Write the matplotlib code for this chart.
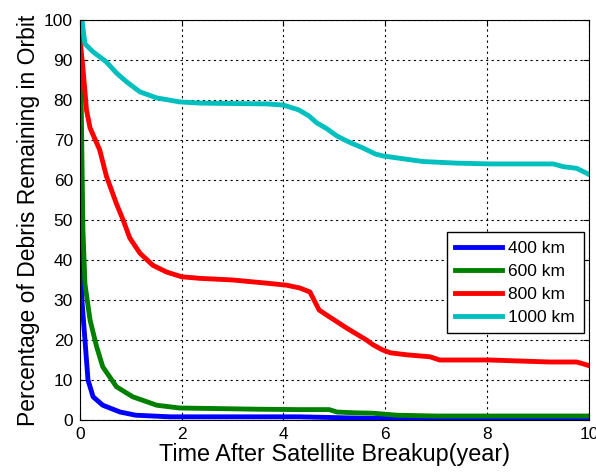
import matplotlib
matplotlib.use('Agg')
import matplotlib.pyplot as plt

# -------------------------------------------------------------
# DATA
# -------------------------------------------------------------

t_400 = [0, 0.01, 0.02, 0.04, 0.1, 0.16, 0.26, 0.45, 0.79, 1.1, 1.77, 2.5, 3.5, 4.3, 5.4, 6.5, 8.0, 10.0]
p_400 = [100, 67, 53, 30, 20, 10, 5.8, 3.7, 2.0, 1.2, 0.8, 0.8, 0.8, 0.8, 0.5, 0.3, 0.3, 0.3]

t_600 = [0, 0.02, 0.04, 0.06, 0.1, 0.2, 0.33, 0.45, 0.72, 1.04, 1.51, 1.96, 2.5, 3.5, 4.32, 4.9,
         5.05, 5.4, 5.76, 6.23, 7.0, 8.0, 10.0]
p_600 = [100, 86, 66, 47.5, 34, 25, 18.3, 13.3, 8.3, 5.8, 3.7, 3.0, 2.9, 2.7, 2.6, 2.6,
         2.0, 1.8, 1.7, 1.2, 1.0, 1.0, 1.0]

t_800 = [0, 0.06, 0.13, 0.2, 0.39, 0.52, 0.72, 0.85, 0.98, 1.18, 1.43, 1.7, 2.0, 2.36, 3.0,
         3.67, 4.06, 4.32, 4.52, 4.6, 4.7, 4.9, 5.24, 5.5, 5.63, 5.76, 5.95, 6.1, 6.42, 6.88, 7.07,
         8.05, 9.23, 9.76, 9.9, 10.0]
p_800 = [95.5, 88, 77.5, 73, 67.5, 61, 54, 50, 45.5, 41.7, 38.7, 37, 35.8, 35.4, 35,
         34.2, 33.7, 33, 32, 30, 27.5, 25.8, 23, 21, 20, 18.8, 17.5, 16.8, 16.3, 15.8, 15,
         15, 14.5, 14.5, 14, 13.6]

t_1000 = [0, 0.04, 0.1, 0.26, 0.52, 0.72, 0.92, 1.18, 1.51, 1.96, 2.36, 3.0, 3.67, 4.0, 4.3, 4.5,
          4.65, 4.85, 5.05, 5.2, 5.37, 5.56, 5.8, 5.95, 6.29, 6.74, 7.4, 8.05, 9.3, 9.5, 9.76, 10.0]
p_1000 = [100, 100, 94, 92, 89.5, 86.7, 84.5, 82, 80.5, 79.5, 79.2, 79.1, 79, 78.7, 77.5, 76,
          74.3, 72.8, 71, 70, 69, 68, 66.5, 66, 65.4, 64.6, 64.2, 64, 64, 63.3, 62.9, 61.4]

labels = ['400 km', '600 km', '800 km', '1000 km']
colors = ['#0000ff', '#008000', '#ff0000', '#00bfbf']

x_ticks = [0, 2, 4, 6, 8, 10]
y_ticks = [0, 10, 20, 30, 40, 50, 60, 70, 80, 90, 100]

# -------------------------------------------------------------
# PLOT
# -------------------------------------------------------------

plt.rcParams['font.family'] = ['Liberation Sans', 'DejaVu Sans']

fig = plt.figure(figsize=(5.96, 4.73), dpi=100)
ax = fig.add_axes([0.134, 0.112, 0.854, 0.846])

series = [(t_400, p_400), (t_600, p_600), (t_800, p_800), (t_1000, p_1000)]
for (t, p), lab, col in zip(series, labels, colors):
    ax.plot(t, p, color=col, linewidth=3.5, label=lab, solid_joinstyle='round')

ax.set_xlim(0, 10)
ax.set_ylim(0, 100)
ax.set_xticks(x_ticks)
ax.set_yticks(y_ticks)
ax.tick_params(direction='in', length=4, top=True, right=True, labelsize=12.5, pad=5)
ax.grid(True, color='black', linestyle=(0, (2, 3)), linewidth=0.8)

for s in ax.spines.values():
    s.set_linewidth(0.8)

ax.set_xlabel('Time After Satellite Breakup(year)', fontsize=16.8, labelpad=1)
ax.set_ylabel('Percentage of Debris Remaining in Orbit', fontsize=16.5, labelpad=3)

leg = ax.legend(loc='upper right', bbox_to_anchor=(0.99, 0.47), borderaxespad=0,
                fontsize=12.5, fancybox=False, framealpha=1, edgecolor='black',
                handlelength=2.7, borderpad=0.5, labelspacing=0.45, handletextpad=0.35)
leg.get_frame().set_linewidth(1.0)

plt.savefig('out.png', dpi=100)
